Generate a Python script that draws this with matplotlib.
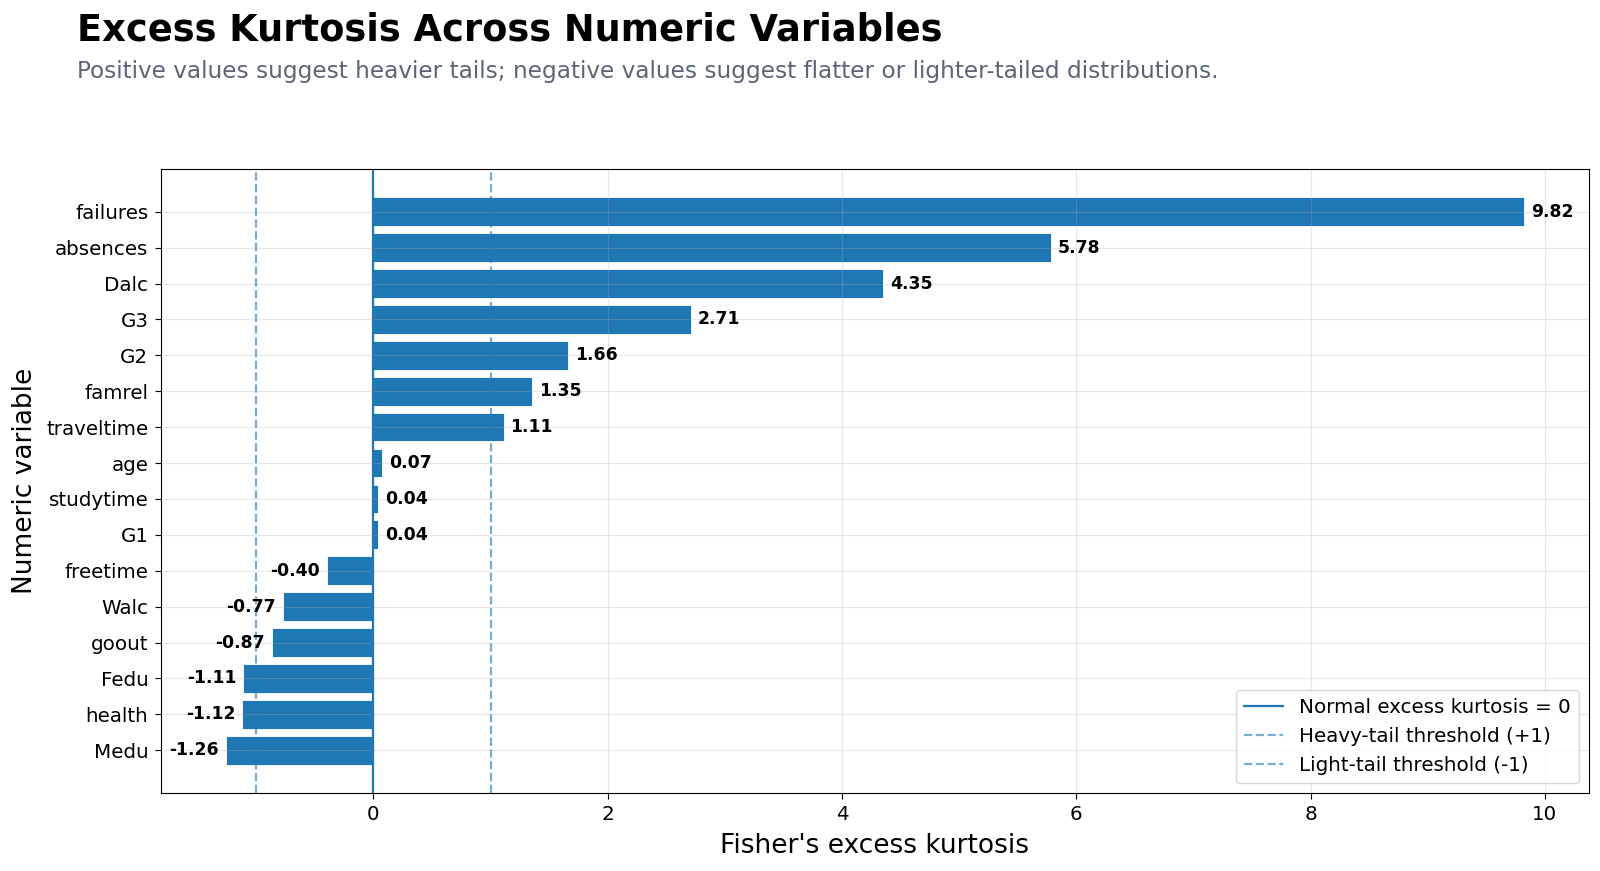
import matplotlib

matplotlib.use("Agg")
import matplotlib.pyplot as plt

# Excess kurtosis per numeric variable (sorted, bottom to top as drawn)
variables = ["Medu", "health", "Fedu", "goout", "Walc", "freetime", "G1", "studytime",
             "age", "traveltime", "famrel", "G2", "G3", "Dalc", "absences", "failures"]
kurtosis = [-1.26, -1.12, -1.11, -0.87, -0.77, -0.40, 0.04, 0.04,
            0.07, 1.11, 1.35, 1.66, 2.71, 4.35, 5.78, 9.82]

BLUE = "#1f77b4"

fig = plt.figure(figsize=(16, 8.71), dpi=100)
ax = fig.add_axes([0.1006, 0.0896, 0.8924, 0.7164])

ax.barh(variables, kurtosis, color=BLUE, height=0.8, edgecolor="white", linewidth=0.6)
ax.grid(True, alpha=0.3)

ax.axvline(0, color=BLUE, lw=1.6, label="Normal excess kurtosis = 0")
ax.axvline(1, color=BLUE, lw=1.6, ls="--", alpha=0.6, label="Heavy-tail threshold (+1)")
ax.axvline(-1, color=BLUE, lw=1.6, ls="--", alpha=0.6, label="Light-tail threshold (-1)")

off = 0.06
for i, v in enumerate(kurtosis):
    ha = "left" if v >= 0 else "right"
    x = v + off if v >= 0 else v - off
    ax.text(x, i, f"{v:.2f}", ha=ha, va="center", fontsize=12.4, fontweight="bold")

ax.tick_params(labelsize=14.3, length=4.5, pad=4.5)
ax.set_xlabel("Fisher's excess kurtosis", fontsize=19, labelpad=6)
ax.set_ylabel("Numeric variable", fontsize=19, labelpad=6)
ax.legend(loc="lower right", fontsize=14.3)

fig.text(0.048, 0.966, "Excess Kurtosis Across Numeric Variables",
         fontsize=26.5, fontweight="bold", va="center", ha="left")
fig.text(0.048, 0.918, "Positive values suggest heavier tails; negative values suggest "
         "flatter or lighter-tailed distributions.",
         fontsize=16.7, color="#5b6578", va="center", ha="left")

fig.savefig("out.png", dpi=100)
